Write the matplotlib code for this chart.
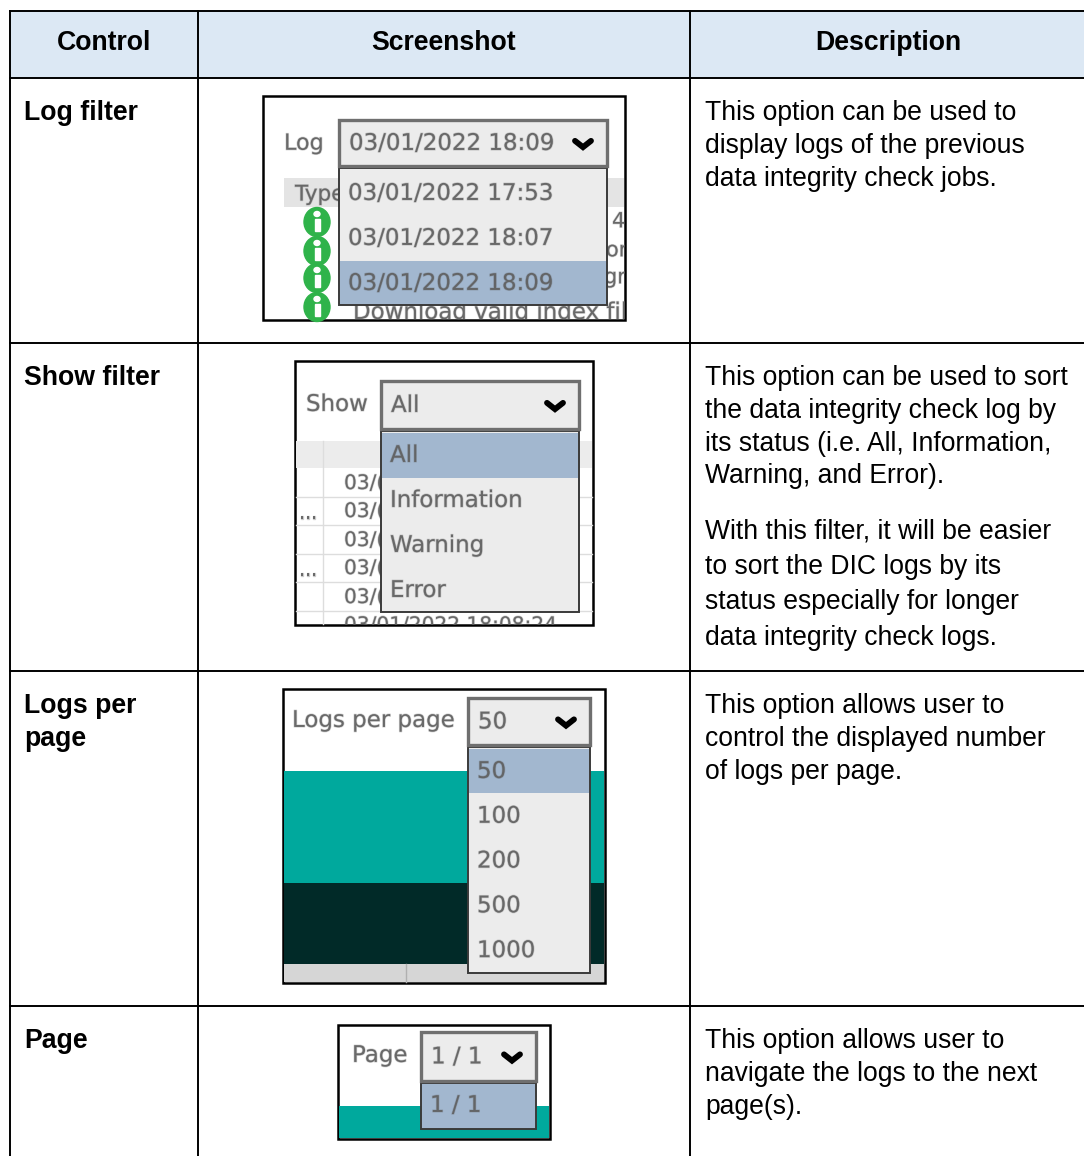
import matplotlib
matplotlib.use('Agg')
import matplotlib.pyplot as plt
import matplotlib.patheffects as pe
from matplotlib.patches import Rectangle, Ellipse

W, H = 1084, 1156

headers = ['Control', 'Screenshot', 'Description']
controls = [['Log filter'], ['Show filter'], ['Logs per', 'page'], ['Page']]
descriptions = [
    ['This option can be used to', 'display logs of the previous', 'data integrity check jobs.'],
    ['This option can be used to sort', 'the data integrity check log by', 'its status (i.e. All, Information,', 'Warning, and Error).'],
    ['This option allows user to', 'control the displayed number', 'of logs per page.'],
    ['This option allows user to', 'navigate the logs to the next', 'page(s).'],
]
extra_description = ['With this filter, it will be easier', 'to sort the DIC logs by its', 'status especially for longer', 'data integrity check logs.']

log_options = ['03/01/2022 17:53', '03/01/2022 18:07', '03/01/2022 18:09']
show_options = ['All', 'Information', 'Warning', 'Error']
per_page_options = ['50', '100', '200', '500', '1000']
page_options = ['1 / 1']
date_stubs = ['03/(', '03/(', '03/(', '03/(', '03/(']
log_row_tails = ['4', 'or', 'gr', '']

row_lines = [11, 78, 343, 671, 1006]
col_lines = [9.5, 198, 690]

GREY = '#5f5f5f'
MENU = '#ececec'
PICK = '#a2b7cf'
TEAL = '#00a99d'
DARK = '#012a28'

plt.rcParams['font.family'] = ['Liberation Sans', 'DejaVu Sans']
fig = plt.figure(figsize=(W / 100, H / 100), dpi=100)
ax = fig.add_axes([0, 0, 1, 1])
ax.set_xlim(0, W)
ax.set_ylim(H, 0)
ax.axis('off')


def box(x0, y0, x1, y1, fc='none', ec='none', lw=0, z=2):
    p = Rectangle((x0, y0), x1 - x0, y1 - y0, facecolor=fc, edgecolor=ec, linewidth=lw, zorder=z)
    ax.add_patch(p)
    return p


def shot_text(x, y, s, size=16.5, color=GREY, z=6, clip=None):
    # y is the middle of the line, text is placed on its baseline
    t = ax.text(x, y + size * 0.42, s, fontsize=size, color=color, family='DejaVu Sans', va='baseline', ha='left', zorder=z, alpha=0.9)
    # soft edge, the screenshots are blurry
    t.set_path_effects([pe.withStroke(linewidth=1.0, foreground=color, alpha=0.25)])
    if clip is not None:
        t.set_clip_path(clip)
        t.set_clip_on(True)
    return t


def chevron(x, y, w=8, h=7):
    ax.plot([x - w, x, x + w], [y - h * 0.45, y + h * 0.45, y - h * 0.45], color='black', lw=4.2, zorder=7, solid_capstyle='round', solid_joinstyle='miter')


def dropdown(x0, x1, y0, y1, label, menu_y1, options, picked, first_y, step, size=16.5):
    # selected value box on top, open list below
    box(x0, y0, x1, y1, fc=MENU, ec='#6f6f6f', lw=2.4, z=5)
    shot_text(x0 + 10, (y0 + y1) / 2, label, size=size)
    chevron(x1 - 24, (y0 + y1) / 2 + 1)
    box(x0, y1 + 2, x1, menu_y1, fc=MENU, ec='#3a3a3a', lw=1.4, z=4)
    for i, opt in enumerate(options):
        yc = first_y + i * step
        if i == picked:
            box(x0 + 1, max(yc - step / 2, y1 + 3), x1 - 1, min(yc + step / 2, menu_y1 - 1), fc=PICK, z=4.5)
        shot_text(x0 + 9, yc, opt, size=size)


# header band and table grid
box(col_lines[0], row_lines[0], W, row_lines[1], fc='#dce8f4')
for y in row_lines:
    ax.plot([col_lines[0], W], [y, y], color='black', lw=1.4, zorder=3)
for x in col_lines:
    ax.plot([x, x], [row_lines[0], H], color='black', lw=1.4, zorder=3)

for text, x in zip(headers, [104.5, 444, 888]):
    ax.text(x, 50, text, fontsize=19.2, fontweight='bold', ha='center', va='baseline', color='black')

line_h = 32.8
for lines, y0 in zip(controls, [120, 385, 713, 1048]):
    for i, line in enumerate(lines):
        ax.text(24, y0 + i * line_h, line, fontsize=19.2, fontweight='bold', va='baseline', color='black')

for lines, y0 in zip(descriptions, [120, 385, 713, 1048]):
    for i, line in enumerate(lines):
        ax.text(705, y0 + i * line_h, line, fontsize=19.1, va='baseline', color='black')
for i, line in enumerate(extra_description):
    ax.text(705, 539 + i * 35.2, line, fontsize=19.1, va='baseline', color='black')

# log filter screenshot
frame = box(263, 96, 625, 320, fc='white', ec='black', lw=1.8, z=1.5)
box(284, 178, 624, 207, fc='#e4e4e4', z=1.7)
shot_text(295, 194, 'Type', size=15.5, z=2)
shot_text(353, 312, 'Download valid index files from', size=16.5, z=2, clip=frame)
shot_text(284, 143, 'Log', size=16)
for yc, tail, tail_x in zip([222, 251, 278, 307], log_row_tails, [612, 606, 604, 604]):
    ax.add_patch(Ellipse((317, yc), 26, 29, color='#2fb34a', zorder=2.5))
    ax.add_patch(Rectangle((314.5, yc - 3), 5, 12, color='white', zorder=2.6))
    ax.add_patch(Ellipse((317, yc - 8), 6, 5, color='white', zorder=2.6))
    if tail:
        shot_text(tail_x, yc - 1, tail, size=15, z=2.5, clip=frame)
dropdown(339, 607, 120, 166, '03/01/2022 18:09', 305, log_options, 2, 193, 45)

# show filter screenshot
frame = box(295, 361, 593, 625, fc='white', ec='black', lw=1.8, z=1.5)
box(296, 441, 592, 468, fc='#ececec', z=1.7)
for yc, s in zip([483, 511, 540, 568, 597], date_stubs):
    shot_text(344, yc, s, size=14.5, z=2)
    ax.plot([296, 592], [yc + 14, yc + 14], color='#dddddd', lw=1, zorder=1.8)
ax.plot([323, 323], [441, 624], color='#dddddd', lw=1, zorder=1.8)
shot_text(344, 625, '03/01/2022 18:08:24', size=14.5, z=1.9, clip=frame)
shot_text(299, 513, '...', size=14, z=2)
shot_text(299, 570, '...', size=14, z=2)
shot_text(306, 404, 'Show')
dropdown(381, 579, 381, 429, 'All', 612, show_options, 0, 455, 45)

# logs per page screenshot
box(283, 689, 605, 983, fc='white', ec='black', lw=1.8, z=1.5)
box(284, 771, 604, 883, fc=TEAL, z=1.7)
box(284, 883, 604, 964, fc=DARK, z=1.7)
box(284, 964, 604, 982, fc='#d6d6d6', z=1.7)
ax.plot([406, 406], [964, 982], color='#b0b0b0', lw=1, zorder=1.8)
shot_text(292, 720, 'Logs per page')
dropdown(468, 590, 698, 745, '50', 973, per_page_options, 0, 771, 44.8)

# page screenshot
box(338, 1025, 550, 1139, fc='white', ec='black', lw=1.8, z=1.5)
box(339, 1106, 549, 1138, fc=TEAL, z=1.7)
shot_text(352, 1055, 'Page')
dropdown(421, 536, 1032, 1081, '1 / 1', 1129, page_options, 0, 1105, 46)

fig.savefig('out.png', dpi=100)
